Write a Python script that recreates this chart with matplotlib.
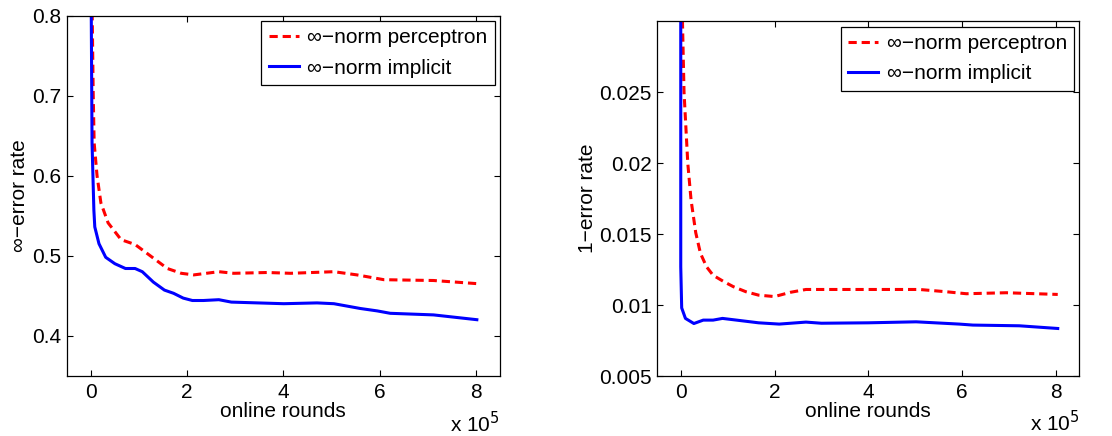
import matplotlib
matplotlib.use("Agg")
import matplotlib.pyplot as plt

plt.rcParams['font.family'] = ['Liberation Sans', 'DejaVu Sans']
plt.rcParams['axes.unicode_minus'] = True

# Left panel: infinity-error rate (x in units of 1e5 rounds)
left_perc_x = [0.0, 0.03, 0.05, 0.07, 0.13, 0.21, 0.36, 0.63, 0.92, 1.10, 1.30, 1.59, 1.88,
               2.14, 2.40, 2.66, 2.97, 3.67, 4.15, 5.05, 5.53, 6.09, 7.12, 8.04]
left_perc_y = [0.95, 0.80, 0.703, 0.641, 0.600, 0.566, 0.541, 0.520, 0.514, 0.506, 0.497, 0.484, 0.478,
               0.476, 0.478, 0.480, 0.478, 0.479, 0.478, 0.480, 0.476, 0.470, 0.469, 0.465]
left_impl_x = [0.0, 0.026, 0.064, 0.083, 0.17, 0.31, 0.50, 0.72, 0.92, 1.07, 1.30, 1.53, 1.72,
               1.92, 2.11, 2.34, 2.66, 2.92, 4.01, 4.70, 5.05, 5.60, 5.95, 6.22, 7.12, 8.02]
left_impl_y = [0.90, 0.641, 0.557, 0.536, 0.515, 0.498, 0.490, 0.484, 0.484, 0.480, 0.467, 0.457,
               0.453, 0.447, 0.444, 0.444, 0.445, 0.442, 0.440, 0.441, 0.440, 0.434, 0.431, 0.428, 0.426, 0.420]

# Right panel: 1-error rate
right_perc_x = [0.03, 0.07, 0.15, 0.22, 0.32, 0.42, 0.55, 0.69, 0.92, 1.12, 1.39, 1.66, 2.0,
                2.34, 2.67, 3.1, 4.17, 5.09, 5.66, 6.09, 6.94, 8.04]
right_perc_y = [0.031, 0.025, 0.020, 0.0174, 0.0151, 0.01365, 0.0127, 0.0121, 0.01165, 0.0113,
                0.01094, 0.0107, 0.0106, 0.0109, 0.0111, 0.0111, 0.0111, 0.0111, 0.01094, 0.0108,
                0.01087, 0.01075]
right_impl_x = [0.0, 0.0, 0.02, 0.10, 0.28, 0.48, 0.69, 0.89, 1.19, 1.66, 2.1, 2.67, 3.0, 4.0,
                5.02, 5.94, 6.23, 7.22, 8.04]
right_impl_y = [0.031, 0.0127, 0.0098, 0.00906, 0.0087, 0.00894, 0.00894, 0.00906, 0.00894, 0.00875,
                0.00866, 0.0088, 0.00872, 0.00875, 0.00882, 0.00866, 0.00859, 0.00854, 0.00835]

xticks = [0, 2, 4, 6, 8]
left_yticks = [0.4, 0.5, 0.6, 0.7, 0.8]
left_yticklabels = ['0.4', '0.5', '0.6', '0.7', '0.8']
right_yticks = [0.005, 0.01, 0.015, 0.02, 0.025]
right_yticklabels = ['0.005', '0.01', '0.015', '0.02', '0.025']

labels = ['\u221e\u2212norm perceptron', '\u221e\u2212norm implicit']

FS = 15
fig = plt.figure(figsize=(11.12, 4.36), dpi=100)
ax1 = fig.add_axes([0.060, 0.1383, 0.3896, 0.8257])
ax2 = fig.add_axes([0.5911, 0.1376, 0.3795, 0.8134])

def style(ax, xs1, ys1, xs2, ys2, ylim, yticks, yticklabels, ylabel, ylabx):
    ax.plot(xs1, ys1, color='#ff0000', lw=2.2, linestyle=(0, (2.7, 1.6)), label=labels[0])
    ax.plot(xs2, ys2, color='#0000ff', lw=2.2, linestyle='-', label=labels[1])
    ax.set_xlim(-0.5, 8.5)
    ax.set_ylim(*ylim)
    ax.set_xticks(xticks)
    ax.set_xticklabels([str(t) for t in xticks])
    ax.set_yticks(yticks)
    ax.set_yticklabels(yticklabels)
    ax.tick_params(direction='in', length=4, width=0.8, top=True, right=True,
                   labelsize=FS, pad=5)
    ax.tick_params(axis='y', pad=4)
    for s in ax.spines.values():
        s.set_linewidth(0.9)
    ax.set_xlabel('online rounds', fontsize=FS, labelpad=0)
    ax.set_ylabel(ylabel, fontsize=FS)
    ax.yaxis.set_label_coords(ylabx, 0.5)
    ax.text(1.0, -0.156, 'x 10$^5$', transform=ax.transAxes, ha='right', va='baseline',
            fontsize=FS)
    leg = ax.legend(loc='upper right', fontsize=FS, frameon=True, fancybox=False,
                    edgecolor='black', framealpha=1, handlelength=1.45, handletextpad=0.4,
                    borderpad=0.35, labelspacing=0.55, borderaxespad=0.25)
    leg.get_frame().set_linewidth(0.9)

style(ax1, left_perc_x, left_perc_y, left_impl_x, left_impl_y, (0.35, 0.8),
      left_yticks, left_yticklabels, '\u221e\u2212error rate', -0.086)
style(ax2, right_perc_x, right_perc_y, right_impl_x, right_impl_y, (0.005, 0.03),
      right_yticks, right_yticklabels, '1\u2212error rate', -0.142)

fig.savefig('out.png', dpi=100)
